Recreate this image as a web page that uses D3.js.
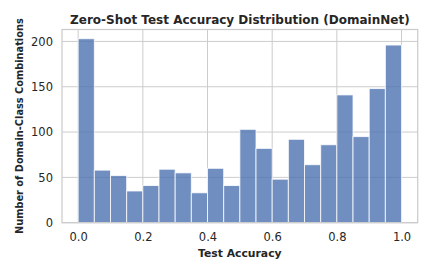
<html>
  <head>
    <meta charset="UTF-8">
    <title>Zero-Shot Test Accuracy Distribution</title>
    <script src="https://cdn.jsdelivr.net/npm/d3@7"></script>
    <style>
      body { margin: 0; background: #fff; }
      text { font-family: "DejaVu Sans", sans-serif; fill: #262626; }
    </style>
  </head>
  <body>
    <svg width="432" height="275"></svg>
    <script>
    // histogram bins (width 0.05) and counts
    var binStarts = [0, 0.05, 0.1, 0.15, 0.2, 0.25, 0.3, 0.35, 0.4, 0.45,
                     0.5, 0.55, 0.6, 0.65, 0.7, 0.75, 0.8, 0.85, 0.9, 0.95];
    var counts = [203, 58, 52, 35, 41, 59, 55, 33, 60, 41,
                  103, 82, 48, 92, 64, 86, 141, 95, 148, 196];
    var binWidth = 0.05;
    var xTicks = [0, 0.2, 0.4, 0.6, 0.8, 1.0];
    var yTicks = [0, 50, 100, 150, 200];

    var svg = d3.select('svg');
    // plot box (note: "top" would clash with window.top)
    var plotLeft = 62, plotRight = 417.7, plotTop = 29.5, plotBottom = 222.7;

    var x = d3.scaleLinear().domain([-0.05, 1.05]).range([plotLeft, plotRight]);
    var y = d3.scaleLinear().domain([0, d3.max(counts) * 1.05]).range([plotBottom, plotTop]);

    // grid
    svg.append('g').selectAll('line').data(xTicks).enter().append('line')
        .attr('x1', function(d) { return x(d); })
        .attr('x2', function(d) { return x(d); })
        .attr('y1', plotTop).attr('y2', plotBottom)
        .attr('stroke', '#cccccc').attr('stroke-width', 1);
    svg.append('g').selectAll('line').data(yTicks).enter().append('line')
        .attr('x1', plotLeft).attr('x2', plotRight)
        .attr('y1', function(d) { return y(d); })
        .attr('y2', function(d) { return y(d); })
        .attr('stroke', '#cccccc').attr('stroke-width', 1);

    // bars
    svg.append('g').selectAll('rect').data(counts).enter().append('rect')
        .attr('x', function(d, i) { return x(binStarts[i]); })
        .attr('width', function(d, i) { return x(binStarts[i] + binWidth) - x(binStarts[i]); })
        .attr('y', function(d) { return y(d); })
        .attr('height', function(d) { return y(0) - y(d); })
        .attr('fill', '#4C72B0').attr('fill-opacity', 0.8)
        .attr('stroke', '#ffffff').attr('stroke-opacity', 0.8).attr('stroke-width', 1);

    // frame
    svg.append('rect')
        .attr('x', plotLeft).attr('y', plotTop)
        .attr('width', plotRight - plotLeft).attr('height', plotBottom - plotTop)
        .attr('fill', 'none').attr('stroke', '#cccccc').attr('stroke-width', 1.25);

    // axes (labels only, no tick marks)
    var xAxis = svg.append('g').attr('transform', 'translate(0,' + plotBottom + ')')
        .call(d3.axisBottom(x).tickValues(xTicks).tickSize(0).tickPadding(10).tickFormat(d3.format('.1f')));
    var yAxis = svg.append('g').attr('transform', 'translate(' + plotLeft + ',0)')
        .call(d3.axisLeft(y).tickValues(yTicks).tickSize(0).tickPadding(9));
    [xAxis, yAxis].forEach(function(a) {
        a.select('.domain').remove();
        a.selectAll('text').attr('font-family', '"DejaVu Sans", sans-serif')
            .attr('font-size', 11.5).attr('fill', '#262626');
    });

    svg.append('text')
        .attr('x', (plotLeft + plotRight) / 2).attr('y', 24)
        .attr('text-anchor', 'middle')
        .attr('font-size', 12).attr('font-weight', 'bold')
        .text('Zero-Shot Test Accuracy Distribution (DomainNet)');

    svg.append('text')
        .attr('x', (plotLeft + plotRight) / 2).attr('y', 257)
        .attr('text-anchor', 'middle')
        .attr('font-size', 10.8).attr('font-weight', 'bold')
        .text('Test Accuracy');

    svg.append('text')
        .attr('transform', 'translate(23,' + (plotTop + plotBottom) / 2 + ') rotate(-90)')
        .attr('text-anchor', 'middle')
        .attr('font-size', 9.8).attr('font-weight', 'bold')
        .text('Number of Domain-Class Combinations');
    </script>
  </body>
</html>
